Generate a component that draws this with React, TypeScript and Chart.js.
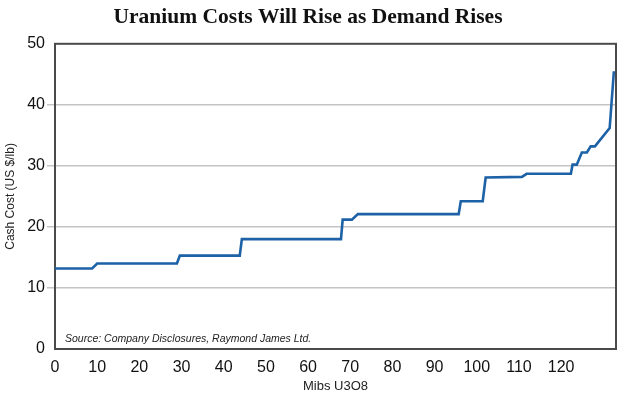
import React, { useEffect, useRef } from "react";
import { Chart, registerables } from "chart.js";

Chart.register(...registerables);

const TITLE = "Uranium Costs Will Rise as Demand Rises";
const X_TITLE = "Mibs U3O8";
const Y_TITLE = "Cash Cost (US $/lb)";
const SOURCE = "Source: Company Disclosures, Raymond James Ltd.";

const X_TICKS = [0, 10, 20, 30, 40, 50, 60, 70, 80, 90, 100, 110, 120];
const Y_TICKS = [0, 10, 20, 30, 40, 50];

const volumes = [
  0, 8.8, 10.0, 28.9, 29.6, 43.8, 44.3, 67.8, 68.2, 70.4, 71.8, 95.7, 96.2,
  101.4, 102.1, 110.7, 111.8, 122.3, 122.7, 123.7, 124.9, 126.1, 127.0, 128.0,
  131.5, 132.5,
];
const cashCosts = [
  13.2, 13.2, 14.0, 14.0, 15.3, 15.3, 18.0, 18.0, 21.2, 21.2, 22.1, 22.1, 24.2,
  24.2, 28.1, 28.2, 28.7, 28.7, 30.2, 30.2, 32.2, 32.2, 33.2, 33.2, 36.2, 45.5,
];

const SANS = "'Liberation Sans', Arial, sans-serif";

const boxPlugin = {
  id: "boxAndSource",
  beforeDatasetsDraw(chart: any) {
    const { ctx, chartArea } = chart;
    const { left, top, right, bottom } = chartArea;
    ctx.save();
    ctx.strokeStyle = "#4a4a4a";
    ctx.lineWidth = 2;
    ctx.strokeRect(left, top, right - left, bottom - top);
    ctx.fillStyle = "#222";
    ctx.font = `italic 10.5px ${SANS}`;
    ctx.textAlign = "left";
    ctx.textBaseline = "middle";
    ctx.fillText(SOURCE, left + 10, bottom - 10);
    ctx.restore();
  },
};

export default function App() {
  const ref = useRef<HTMLCanvasElement | null>(null);
  useEffect(() => {
    if (!ref.current) return;
    const chart = new Chart(ref.current, {
      type: "line",
      data: {
        datasets: [
          {
            data: volumes.map((v, i) => ({ x: v, y: cashCosts[i] })),
            borderColor: "#1d62a6",
            borderWidth: 2.6,
            pointRadius: 0,
            tension: 0,
            fill: false,
          },
        ],
      },
      options: {
        animation: false,
        responsive: false,
        layout: { padding: { left: 0, right: 4, top: 0, bottom: 0 } },
        plugins: {
          legend: { display: false },
          tooltip: { enabled: false },
          title: {
            display: true,
            text: TITLE,
            color: "#111",
            font: { family: "'Liberation Serif', serif", weight: "bold", size: 21.5 },
            padding: { top: 5, bottom: 13 },
          },
        },
        scales: {
          x: {
            type: "linear",
            min: 0,
            max: 133,
            afterBuildTicks: (s: any) => {
              s.ticks = X_TICKS.map((v) => ({ value: v }));
            },
            afterFit: (s: any) => {
              s.height = 50;
            },
            grid: { display: false, drawTicks: false },
            border: { display: false },
            ticks: {
              padding: 9,
              color: "#111",
              font: { family: SANS, size: 16 },
              maxRotation: 0,
              autoSkip: false,
            },
            title: {
              display: true,
              text: X_TITLE,
              color: "#222",
              font: { family: SANS, size: 13 },
              padding: { top: 0, bottom: 5 },
            },
          },
          y: {
            type: "linear",
            min: 0,
            max: 50,
            afterBuildTicks: (s: any) => {
              s.ticks = Y_TICKS.map((v) => ({ value: v }));
            },
            afterFit: (s: any) => {
              s.width = 55;
            },
            grid: {
              color: (c: any) =>
                c.tick && (c.tick.value === 0 || c.tick.value === 50)
                  ? "rgba(0,0,0,0)"
                  : "#c4c4c4",
              lineWidth: 1.5,
              tickLength: 8,
            },
            border: { display: false },
            ticks: {
              padding: 2,
              color: "#111",
              font: { family: SANS, size: 16 },
            },
            title: {
              display: true,
              text: Y_TITLE,
              color: "#222",
              font: { family: SANS, size: 12 },
              padding: { top: 3, bottom: 0 },
            },
          },
        },
      },
      plugins: [boxPlugin],
    } as any);
    return () => chart.destroy();
  }, []);
  return (
    <div style={{ position: "absolute", left: 0, top: 0, width: 620, height: 399, background: "#fff" }}>
      <canvas ref={ref} width={620} height={399} style={{ display: "block" }} />
    </div>
  );
}
